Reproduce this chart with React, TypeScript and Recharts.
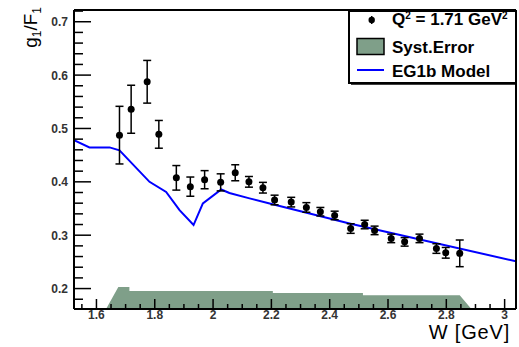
import React from 'react';
import { ComposedChart, XAxis, YAxis, Scatter, Line, Area, ErrorBar, Legend, Label } from 'recharts';

// ---- data ----
const wValues = [1.679, 1.719, 1.774, 1.814, 1.874, 1.922, 1.971, 2.026, 2.076, 2.123, 2.171, 2.211, 2.268, 2.32, 2.368, 2.417, 2.472, 2.52, 2.554, 2.611, 2.657, 2.708, 2.766, 2.798, 2.846];
const g1F1Values = [0.4875, 0.536, 0.5875, 0.489, 0.4075, 0.391, 0.404, 0.399, 0.417, 0.4, 0.389, 0.366, 0.362, 0.352, 0.344, 0.337, 0.3125, 0.32, 0.309, 0.294, 0.2875, 0.294, 0.275, 0.267, 0.266];
const statErrors = [0.054, 0.045, 0.04, 0.026, 0.023, 0.018, 0.017, 0.016, 0.015, 0.01, 0.01, 0.009, 0.009, 0.009, 0.008, 0.008, 0.009, 0.008, 0.008, 0.008, 0.008, 0.008, 0.009, 0.01, 0.025];

const modelW = [1.523, 1.576, 1.645, 1.679, 1.782, 1.839, 1.885, 1.933, 1.965, 2.028, 2.056, 2.125, 2.194, 2.468, 3.039];
const modelValues = [0.478, 0.4645, 0.4645, 0.459, 0.4, 0.381, 0.347, 0.319, 0.3595, 0.3857, 0.379, 0.369, 0.3594, 0.322, 0.251];

const systW = [1.633, 1.675, 1.713, 1.713, 2.205, 2.205, 2.514, 2.514, 2.846, 2.886];
const systTop = [0.1617, 0.203, 0.203, 0.1955, 0.1955, 0.1918, 0.1918, 0.1874, 0.1874, 0.1617];

const xMajorTicks = [1.6, 1.8, 2.0, 2.2, 2.4, 2.6, 2.8, 3.0];
const yMajorTicks = [0.2, 0.3, 0.4, 0.5, 0.6, 0.7];
const xDomain: [number, number] = [1.523, 3.039];
const yDomain: [number, number] = [0.1617, 0.722];

const legendLabels = { data: 'Q', syst: 'Syst.Error', model: 'EG1b Model' };

// ---- derived tables ----
const pointData = wValues.map((w, i) => ({ w, v: g1F1Values[i], err: statErrors[i] }));
const modelData = modelW.map((w, i) => ({ w, v: modelValues[i] }));
const systData = systW.map((w, i) => ({ w, v: systTop[i] }));

const xTicks: number[] = [];
for (let i = 31; i <= 60; i++) xTicks.push(Math.round(i * 5) / 100);
const yTicks: number[] = [];
for (let i = 9; i <= 36; i++) yTicks.push(Math.round(i * 2) / 100);

const isMajorOf = (v: number, majors: number[]) => majors.some((m) => Math.abs(m - v) < 1e-6);
const fmt = (v: number) => String(Math.round(v * 10) / 10);

const FONT = '"Liberation Sans", Arial, Helvetica, sans-serif';
const BAND = '#7f9f89';

const XTick = (props: any) => {
  const { x, y, payload } = props;
  const major = isMajorOf(payload.value, xMajorTicks);
  return (
    <g>
      <line x1={x} x2={x} y1={y} y2={y - (major ? 10 : 5)} stroke="#000" strokeWidth={1.5} />
      {major && (
        <text x={x} y={y + 10} textAnchor="middle" fontSize={12} fontWeight="bold" fontFamily={FONT} fill="#333">
          {fmt(payload.value)}
        </text>
      )}
    </g>
  );
};

const YTick = (props: any) => {
  const { x, y, payload } = props;
  const major = isMajorOf(payload.value, yMajorTicks);
  return (
    <g>
      <line x1={x} x2={x + (major ? 17 : 9)} y1={y} y2={y} stroke="#000" strokeWidth={1.5} />
      {major && (
        <text x={x - 6} y={y + 4.5} textAnchor="end" fontSize={12} fontWeight="bold" fontFamily={FONT} fill="#333">
          {fmt(payload.value)}
        </text>
      )}
    </g>
  );
};

const XTitle = () => (
  <text x={510} y={339} textAnchor="end" fontSize={20} letterSpacing={0.8} fontFamily={FONT} fill="#000">
    W [GeV]
  </text>
);

const YTitle = () => {
  const cx = 37;
  const cy = 7;
  return (
    <text x={cx} y={cy} transform={`rotate(-90 ${cx} ${cy})`} textAnchor="end" fontSize={19} fontFamily={FONT} fill="#000">
      g<tspan dy={4} fontSize={12}>1</tspan>
      <tspan dy={-4}>/F</tspan>
      <tspan dy={4} fontSize={12}>1</tspan>
    </text>
  );
};

const LegendBox = () => (
  <svg width={170} height={76} style={{ display: 'block' }}>
    <rect x={1} y={1} width={167} height={72} fill="#fff" stroke="#000" strokeWidth={2} />
    <line x1={3} x2={169} y1={74} y2={74} stroke="#000" strokeWidth={1.5} />
    <circle cx={23.7} cy={10} r={3.2} fill="#000" />
    <line x1={23.7} x2={23.7} y1={6} y2={14} stroke="#000" strokeWidth={1.5} />
    <text x={44} y={15} fontSize={17} fontWeight="bold" fontFamily={FONT} fill="#000">
      {legendLabels.data}
      <tspan dy={-6} fontSize={10}>2</tspan>
      <tspan dy={6}> = 1.71 GeV</tspan>
      <tspan dy={-6} fontSize={10}>2</tspan>
    </text>
    <rect x={9} y={28.5} width={27} height={16} fill={BAND} stroke="#000" strokeWidth={1.5} />
    <text x={44} y={43} fontSize={17} fontWeight="bold" fontFamily={FONT} fill="#000">
      {legendLabels.syst}
    </text>
    <line x1={9} x2={36} y1={60} y2={60} stroke="#0000ff" strokeWidth={2} />
    <text x={44} y={67} fontSize={17} fontWeight="bold" fontFamily={FONT} fill="#000">
      {legendLabels.model}
    </text>
  </svg>
);

export default function App() {
  return (
    <div style={{ position: 'absolute', left: 0, top: 0, width: 519, height: 347, background: '#fff' }}>
      <ComposedChart width={519} height={347} margin={{ top: 9, right: 2, bottom: 37, left: 73 }}>
        <Area
          data={systData}
          dataKey="v"
          type="linear"
          baseValue="dataMin"
          fill={BAND}
          fillOpacity={1}
          stroke="none"
          isAnimationActive={false}
        />
        <Line
          data={modelData}
          dataKey="v"
          type="linear"
          stroke="#0000ff"
          strokeWidth={2}
          dot={false}
          isAnimationActive={false}
        />
        <Scatter
          data={pointData}
          dataKey="v"
          fill="#000"
          isAnimationActive={false}
          shape={(p: any) => <circle cx={p.cx} cy={p.cy} r={3.5} fill="#000" />}
        >
          <ErrorBar dataKey="err" direction="y" width={4} stroke="#000" strokeWidth={1.5} />
        </Scatter>
        <XAxis
          dataKey="w"
          type="number"
          domain={xDomain}
          allowDataOverflow
          ticks={xTicks}
          interval={0}
          tick={(p: any) => <XTick {...p} />}
          tickLine={false}
          tickSize={0}
          tickMargin={0}
          height={1}
          axisLine={{ stroke: '#000', strokeWidth: 2 }}
        >
          <Label content={XTitle} />
        </XAxis>
        <YAxis
          type="number"
          domain={yDomain}
          allowDataOverflow
          ticks={yTicks}
          interval={0}
          tick={(p: any) => <YTick {...p} />}
          tickLine={false}
          tickSize={0}
          tickMargin={0}
          width={1}
          axisLine={{ stroke: '#000', strokeWidth: 2 }}
        >
          <Label content={YTitle} />
        </YAxis>
        <XAxis
          xAxisId="top"
          orientation="top"
          type="number"
          domain={xDomain}
          allowDataOverflow
          height={1}
          tick={false}
          tickLine={false}
          axisLine={{ stroke: '#000', strokeWidth: 2 }}
        />
        <YAxis
          yAxisId="right"
          orientation="right"
          type="number"
          domain={yDomain}
          allowDataOverflow
          width={1}
          tick={false}
          tickLine={false}
          axisLine={{ stroke: '#000', strokeWidth: 2 }}
        />
        <Legend
          layout="vertical"
          align="center"
          verticalAlign="middle"
          content={() => <LegendBox />}
          wrapperStyle={{ position: 'absolute', left: 348, top: 10, width: 170, height: 76 }}
        />
      </ComposedChart>
    </div>
  );
}
